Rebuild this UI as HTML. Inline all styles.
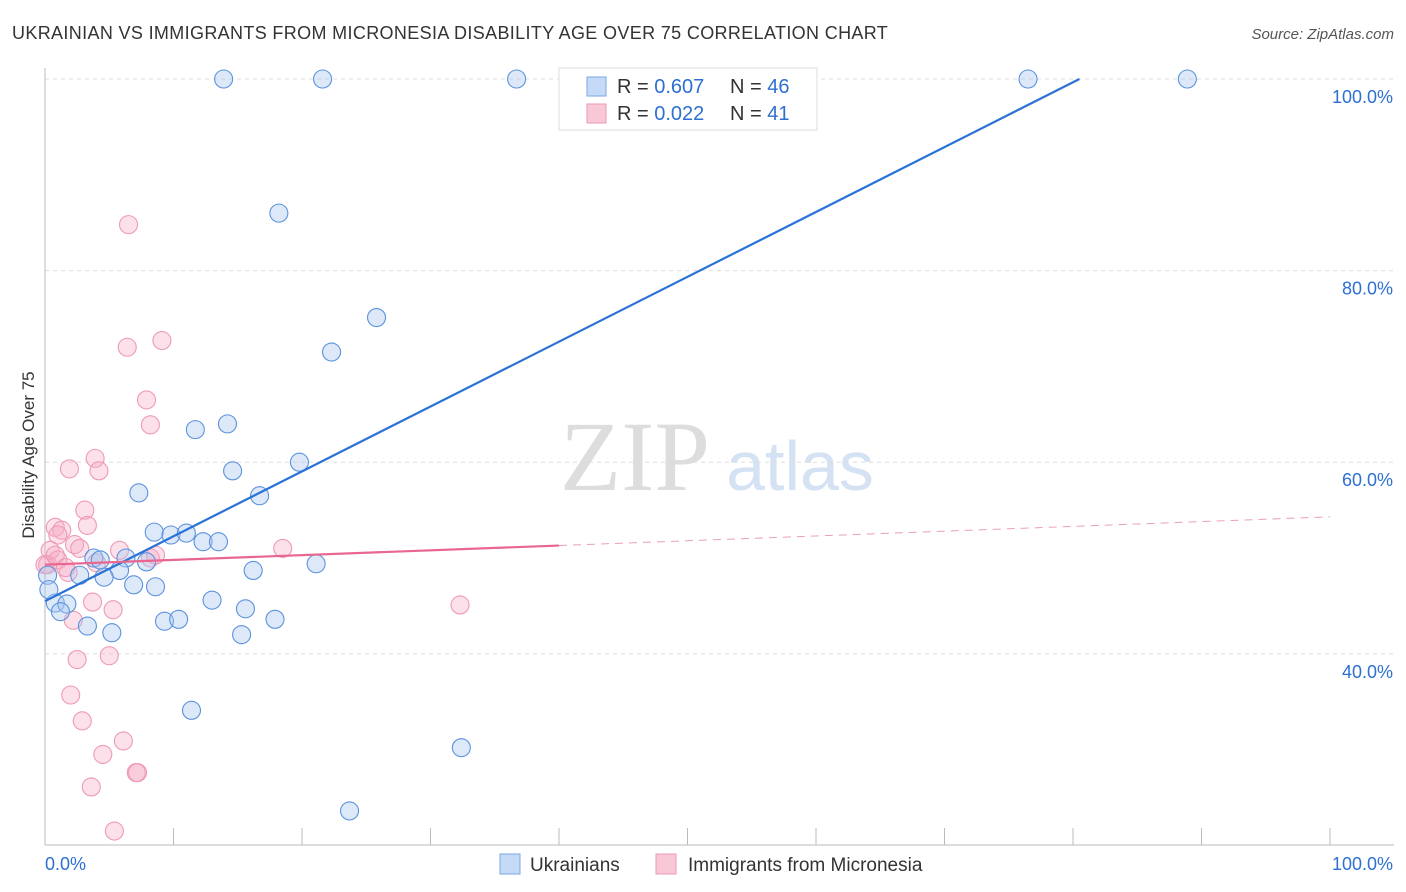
<!DOCTYPE html>
<html><head><meta charset="utf-8">
<style>
body{margin:0;background:#fff;font-family:"Liberation Sans",sans-serif;}
#wrap{position:relative;width:1406px;height:892px;overflow:hidden;}
</style></head>
<body><div id="wrap">
<svg id="svg" width="1406" height="892" xmlns="http://www.w3.org/2000/svg">
<text x="12" y="39" font-size="18" fill="#333" letter-spacing="0.35">UKRAINIAN VS IMMIGRANTS FROM MICRONESIA DISABILITY AGE OVER 75 CORRELATION CHART</text>
<text x="1394" y="39" font-size="15" fill="#555" text-anchor="end" font-style="italic">Source: ZipAtlas.com</text>
<text x="34" y="455" font-size="17" fill="#333" text-anchor="middle" transform="rotate(-90 34 455)">Disability Age Over 75</text>
<text x="635" y="490" font-size="100" fill="#ddd" font-family="Liberation Serif" text-anchor="middle">ZIP</text>
<text x="800" y="490" font-size="70" fill="#d4e2f3" text-anchor="middle">atlas</text>
<g id="grid"></g><g id="axes"></g><g id="pts"></g><g id="lines"></g>
<g>
<rect x="559" y="68" width="258" height="62" fill="#fff" stroke="#ddd"/>
<rect x="587" y="77" width="19" height="19" fill="#c5daf6" stroke="#7aa6e6"/>
<rect x="587" y="104" width="19" height="19" fill="#f8c8d6" stroke="#ec9ab4"/>
<text x="617" y="93" font-size="20" fill="#333">R = <tspan fill="#2d6fd2">0.607</tspan></text>
<text x="730" y="93" font-size="20" fill="#333">N = <tspan fill="#2d6fd2">46</tspan></text>
<text x="617" y="120" font-size="20" fill="#333">R = <tspan fill="#2d6fd2">0.022</tspan></text>
<text x="730" y="120" font-size="20" fill="#333">N = <tspan fill="#2d6fd2"> 41</tspan></text>
</g>
<g>
<rect x="500" y="854" width="20" height="20" fill="#c5daf6" stroke="#7aa6e6"/>
<text x="530" y="871" font-size="19" fill="#333">Ukrainians</text>
<rect x="656" y="854" width="20" height="20" fill="#f8c8d6" stroke="#ec9ab4"/>
<text x="688" y="871" font-size="19" fill="#333">Immigrants from Micronesia</text>
</g>
</svg></div>
<script>
const blueX=[13.9,21.6,36.7,76.5,88.9,18.2,25.8,22.3,14.2,11.7,14.6,19.8,7.3,16.7,8.5,9.8,11.0,12.3,13.5,3.8,6.3,7.9,5.8,2.7,4.6,6.9,8.6,16.2,21.1,0.8,1.7,1.2,3.3,5.2,9.3,10.4,13.0,15.6,17.9,15.3,11.4,32.4,23.7,0.2,0.3,4.3];
const blueY=[100,100,100,100,100,86.0,75.1,71.5,64.0,63.4,59.1,60.0,56.8,56.5,52.7,52.4,52.6,51.7,51.7,50.0,50.0,49.6,48.7,48.2,48.0,47.2,47.0,48.7,49.4,45.3,45.2,44.4,42.9,42.2,43.4,43.6,45.6,44.7,43.6,42.0,34.1,30.2,23.6,48.2,46.7,49.8];
const pinkX=[6.5,6.4,9.1,7.9,8.2,3.9,1.9,4.2,3.1,3.3,0.8,1.3,1.0,2.3,2.7,0.4,0.2,1.0,4.0,8.2,8.6,18.5,1.8,3.7,5.3,2.2,32.3,2.5,5.0,2.0,2.9,6.1,4.5,7.1,3.6,5.4,0,0.8,1.6,5.8,7.2];
const pinkY=[84.8,72.0,72.7,66.5,63.9,60.4,59.3,59.1,55.0,53.4,53.2,52.9,52.4,51.4,51.0,50.8,49.3,49.8,49.5,50.0,50.3,51.0,48.5,45.4,44.6,43.5,45.1,39.4,39.8,35.7,33.0,30.9,29.5,27.6,26.1,21.5,49.3,50.3,49.0,50.8,27.6];
const yTicks=[100,80,60,40];
const blueLine=[45.5,0.677];
const pinkLine=[49.3,0.05];
const X=v=>45+v*12.85, Y=v=>79+(100-v)*9.58;
const NS="http://www.w3.org/2000/svg";
function mk(t,a,p){const e=document.createElementNS(NS,t);for(const k in a)e.setAttribute(k,a[k]);p.appendChild(e);return e;}
const grid=document.getElementById('grid'),axes=document.getElementById('axes'),pts=document.getElementById('pts'),lines=document.getElementById('lines');
yTicks.forEach(v=>{
 const l=mk('line',{x1:45,x2:1394,y1:Y(v),y2:Y(v),stroke:'#ddd','stroke-dasharray':'4,4'},grid);
 
 
 const t=mk('text',{x:1393,y:Y(v)+24,'font-size':18,fill:'#2d6fd2','text-anchor':'end'},axes);
 t.textContent=v.toFixed(1)+'%';
 
 
});
mk('line',{x1:45,x2:45,y1:68,y2:845,stroke:'#bbb'},axes);
mk('line',{x1:45,x2:1394,y1:845,y2:845,stroke:'#bbb'},axes);
for(let i=0;i<=10;i++){mk('line',{x1:X(i*10),x2:X(i*10),y1:828,y2:845,stroke:'#bbb'},axes);}
const t0=mk('text',{x:45,y:870,'font-size':18,fill:'#2d6fd2'},axes);t0.textContent='0.0%';


const t1=mk('text',{x:1393,y:870,'font-size':18,fill:'#2d6fd2','text-anchor':'end'},axes);t1.textContent='100.0%';


pinkX.forEach((x,i)=>{const c=mk('circle',{cx:X(x),cy:Y(pinkY[i]),r:9,fill:'rgba(246,170,195,0.35)',stroke:'#ee9ab5','stroke-width':1.1},pts);
 
 });
blueX.forEach((x,i)=>{const c=mk('circle',{cx:X(x),cy:Y(blueY[i]),r:9,fill:'rgba(170,200,240,0.4)',stroke:'#5b92de','stroke-width':1.1},pts);
 
 });
const bx2=(100-blueLine[0])/blueLine[1];
const bl=mk('line',{x1:X(0),y1:Y(blueLine[0]),x2:X(bx2),y2:Y(100),stroke:'#2a72d6','stroke-width':2.2},lines);


const pl=mk('line',{x1:X(0),y1:Y(pinkLine[0]),x2:X(40),y2:Y(pinkLine[0]+40*pinkLine[1]),stroke:'#e8668f','stroke-width':2.2},lines);


const pd=mk('line',{x1:X(40),y1:Y(pinkLine[0]+40*pinkLine[1]),x2:X(100),y2:Y(pinkLine[0]+100*pinkLine[1]),stroke:'#e8a0b8','stroke-width':1,'stroke-dasharray':'8,6'},lines);


</script></body></html>
